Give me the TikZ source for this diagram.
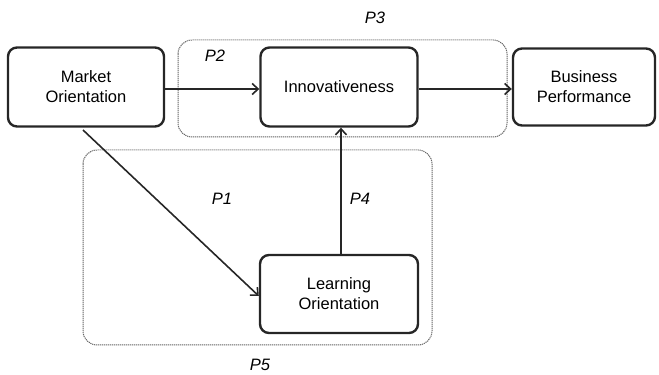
\documentclass[tikz,border=0pt]{standalone}
\usepackage{fontspec}
\setmainfont{Liberation Sans}
\usetikzlibrary{arrows.meta}
\begin{document}
\begin{tikzpicture}[x=1pt,y=1pt,
  cbox/.style={draw=black!85,line width=2.4pt,rounded corners=9pt,inner sep=0pt,align=center,
    font=\fontsize{16.5}{20}\selectfont},
  grp/.style={draw=black!60,line width=1pt,dash pattern=on 1.2pt off 0.8pt,rounded corners=14pt},
  conn/.style={draw=black!85,line width=1.6pt,-{Straight Barb[length=6pt,width=11pt,line width=1.6pt]}},
  plab/.style={font=\fontsize{16.5}{20}\selectfont\itshape}]
\useasboundingbox (0,0) rectangle (659,375);
% groups
\draw[grp] (178,{375-40}) rectangle (507,{375-137});
\draw[grp] (83,{375-150}) rectangle (432,{375-345});
% boxes
\node[cbox,minimum width=156pt,minimum height=79pt] (mo) at (86,{375-87}) {Market\\Orientation};
\node[cbox,minimum width=157pt,minimum height=79pt] (inn) at (339,{375-87}) {Innovativeness};
\node[cbox,minimum width=142pt,minimum height=77pt] (bp) at (584,{375-87}) {Business\\Performance};
\node[cbox,minimum width=158pt,minimum height=78pt] (lo) at (339,{375-294}) {Learning\\Orientation};
% connectors
\draw[conn] (mo.east |- 0,{375-89}) -- (inn.west |- 0,{375-89});
\draw[conn] (inn.east |- 0,{375-89}) -- (bp.west |- 0,{375-89});
\coordinate (p1s) at (83,{375-130});
\draw[conn] (p1s) -- (lo.west |- 0,{375-296});
\draw[conn] (lo.north -| 341,0) -- (inn.south -| 341,0);
% labels
\node[plab] (p3) at (375,{375-18}) {P3};
\node[plab] (p2) at (215,{375-56}) {P2};
\node[plab] (p1) at (222,{375-199}) {P1};
\node[plab] (p4) at (360,{375-199}) {P4};
\node[plab] (p5) at (260,{375-365}) {P5};
\end{tikzpicture}
\end{document}
